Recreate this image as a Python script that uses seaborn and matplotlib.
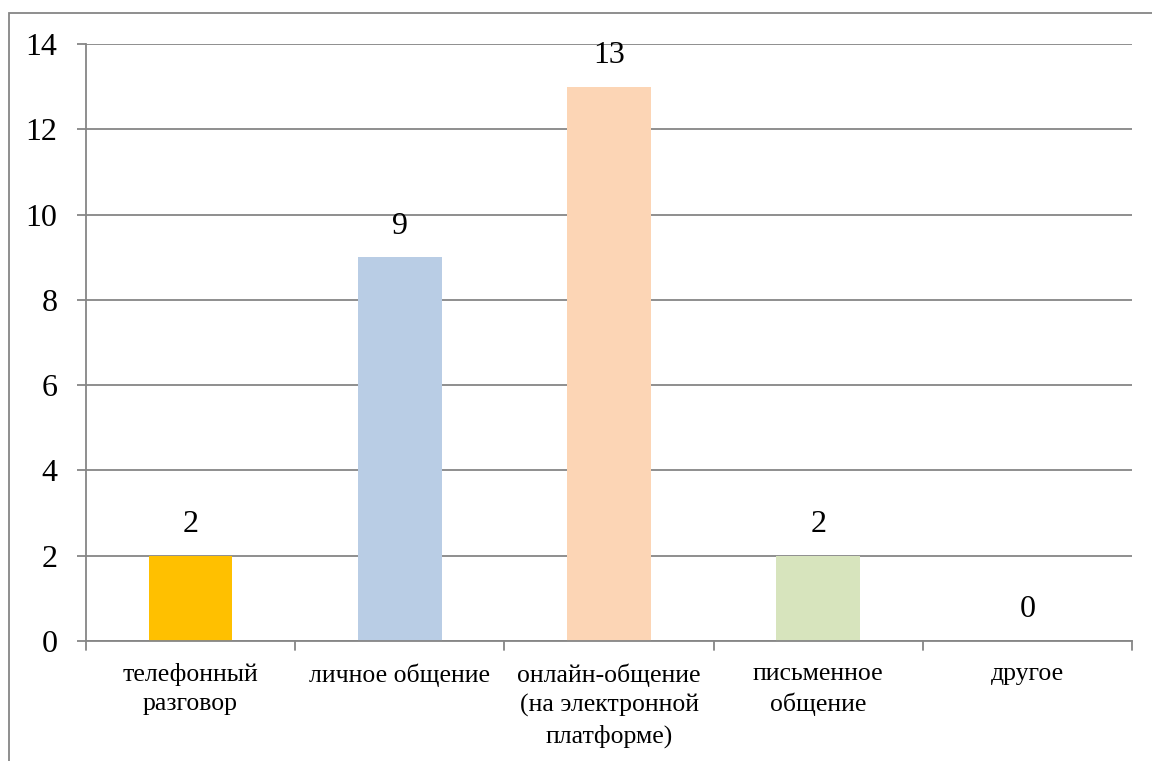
import matplotlib.pyplot as plt
import matplotlib.patches as mpatches
import seaborn as sns
import pandas as pd

categories = ["телефонный\nразговор", "личное общение",
              "онлайн-общение\n(на электронной\nплатформе)",
              "письменное\nобщение", "другое"]
values = [2, 9, 13, 2, 0]
colors = ["#FFC000", "#B9CDE5", "#FCD5B5", "#D7E4BD", "#C0504D"]
yticks = [0, 2, 4, 6, 8, 10, 12, 14]

df = pd.DataFrame({"cat": categories, "val": values})

sns.set_theme(style="white")
plt.rcParams['font.family'] = ['Liberation Serif', 'DejaVu Serif']
plt.rcParams['text.color'] = 'black'

fig = plt.figure(figsize=(11.52, 7.61), dpi=100)
ax = fig.add_axes([86 / 1152, 1 - 641 / 761, (1132 - 86) / 1152, (641 - 44) / 761])

sns.barplot(data=df, x="cat", y="val", hue="cat", palette=colors,
            legend=False, width=0.4, ax=ax, saturation=1, linewidth=0)

grid = "#868686"
ax.set_ylim(0, 14)
ax.set_xlim(-0.5, len(categories) - 0.5)
ax.set_yticks(yticks)
ax.set_yticklabels([str(t) for t in yticks], fontsize=23, color="black")
ax.set_xticks(range(len(categories)))
ax.set_xticklabels(categories, fontsize=18.5, linespacing=1.4, color="black")
ax.tick_params(axis='x', length=0, pad=16)
ax.tick_params(axis='y', length=6.5, width=1.3, color=grid, pad=14, left=True)
for t in yticks:
    ax.axhline(t, color=grid, lw=1.3, zorder=0)
ax.set_axisbelow(True)
for s in ["top", "right"]:
    ax.spines[s].set_visible(False)
ax.spines["left"].set_color(grid)
ax.spines["left"].set_linewidth(1.3)
ax.spines["bottom"].set_color(grid)
ax.spines["bottom"].set_linewidth(1.3)
# category boundary ticks
for b in range(len(categories) + 1):
    ax.plot([b - 0.5, b - 0.5], [0, -0.22], color=grid, lw=1.3, clip_on=False)
ax.set_xlabel("")
ax.set_ylabel("")

for i, v in enumerate(values):
    ax.annotate(str(v), (i, v), xytext=(0, 12), textcoords="offset points",
                ha="center", va="bottom", fontsize=23, color="black")

fig.patches.append(mpatches.Rectangle((9 / 1152, -0.1), 1.2, 1 - 13 / 761 + 0.1,
                                      transform=fig.transFigure, fill=False,
                                      edgecolor=grid, lw=1.3))

fig.savefig("out.png", dpi=100)
